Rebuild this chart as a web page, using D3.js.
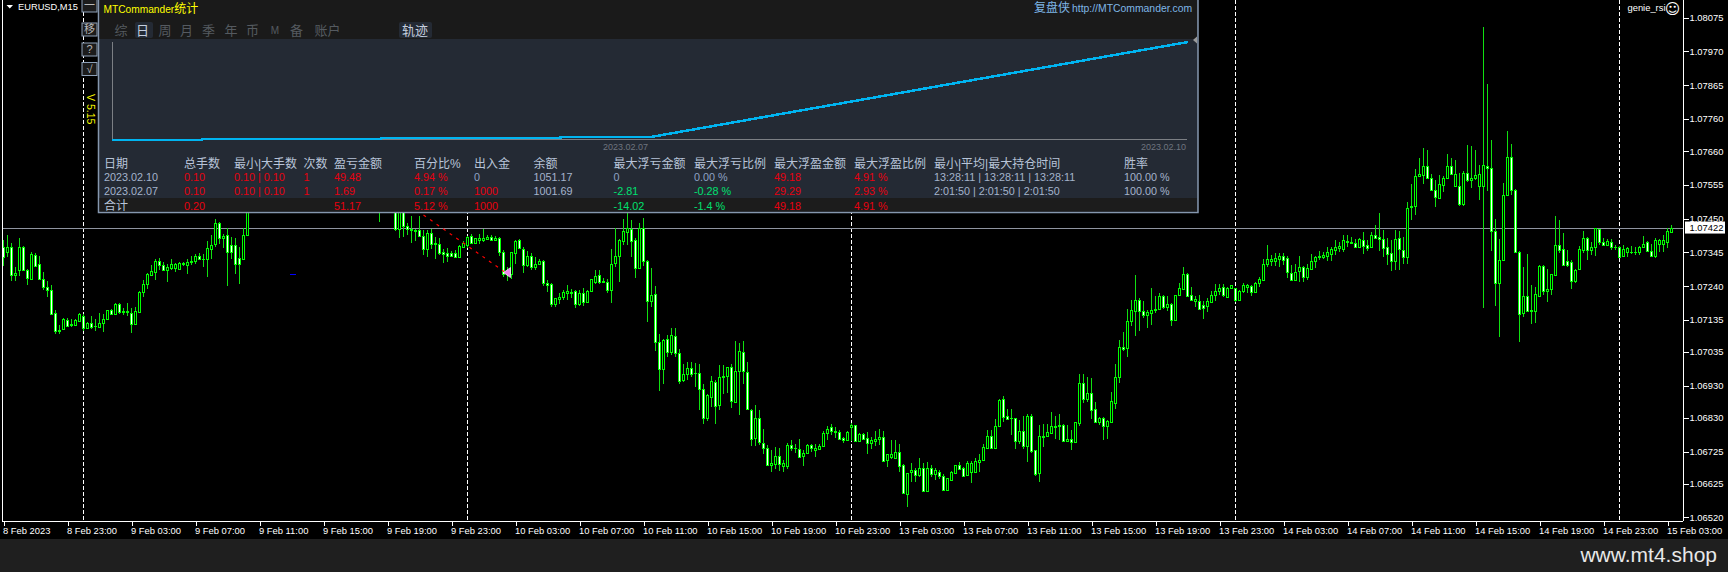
<!DOCTYPE html>
<html>
<head>
<meta charset="utf-8">
<script src="https://cdnjs.cloudflare.com/ajax/libs/d3/7.8.5/d3.min.js"></script>
<style>
  html, body { margin: 0; padding: 0; background: #000; overflow: hidden; }
  svg { display: block; }
  text { font-family: "Liberation Sans", "Noto Sans CJK SC", sans-serif; }
</style>
</head>
<body>
<div id="chart"></div>
<script>
// EURUSD M15 prices, written as points above 1.06000 (1422 = 1.07422).
// null = candle completely covered by the stats panel, can't be read
var opens = [
1360,1347,1360,1275,1289,1362,1289,1263,1338,1308,1263,1237,1229,1157,1104,1107,
1134,1118,1119,1131,1146,1109,1125,1117,1112,1125,1138,1167,1154,1185,1158,1160,
1156,1123,1160,1222,1246,1275,1284,1317,1304,1291,1297,1295,1293,1312,1307,1314,
1318,1335,1325,1325,1355,1370,1437,1391,1398,1367,1367,1327,1325,1399,null,null,
null,null,null,null,null,null,null,null,null,null,null,null,null,null,null,null,
null,null,null,null,null,null,null,null,null,null,null,null,null,null,1500,null,
null,null,1480,1416,1480,1428,1417,1414,1413,1396,1356,1406,1373,1372,1345,1344,
1344,1343,1331,1362,1367,1395,1374,1384,1384,1386,1393,1384,1391,1347,1276,1278,
1344,1382,1354,1304,1335,1300,1309,1319,1250,1246,1184,1200,1205,1219,1223,1226,
1185,1217,1191,1225,1254,1273,1256,1254,1228,1311,1334,1380,1409,1416,1382,1297,
1422,1319,1194,1214,1067,983,1074,1034,1086,1032,947,966,986,969,968,920,
831,895,942,870,961,961,987,880,975,1036,974,854,767,828,753,737,
682,687,712,680,680,744,737,732,711,721,744,730,732,742,783,800,
788,787,766,761,801,809,758,781,766,752,758,765,771,698,708,705,
725,682,594,660,669,651,675,603,675,655,662,650,606,636,659,682,
673,652,662,661,692,698,736,772,736,805,890,835,828,829,757,790,
743,835,729,658,771,773,783,802,806,809,758,765,755,813,937,888,
906,856,818,828,805,818,877,958,1049,1048,1130,1163,1198,1163,1150,1157,
1165,1170,1209,1176,1183,1135,1211,1231,1277,1211,1194,1195,1181,1178,1191,1211,
1224,1236,1207,1234,1233,1197,1226,1238,1240,1220,1250,1260,1309,1319,1319,1325,
1333,1326,1282,1259,1288,1298,1269,1293,1319,1329,1331,1334,1341,1353,1359,1354,
1377,1373,1374,1362,1382,1369,1362,1400,1393,1385,1360,1342,1318,1388,1353,1331,
1486,1489,1583,1586,1613,1577,1540,1514,1554,1576,1612,1551,1552,1494,1593,1569,
1575,1552,1552,1615,1606,1410,1250,1321,1524,1640,1540,1347,1156,1210,1165,1163,
1208,1302,1225,1231,1274,1369,1354,1317,1316,1256,1292,1352,1391,1352,1360,1416,
1377,1367,1378,1361,1362,1334,1347,1346,1346,1346,1361,1376,1350,1334,1372,1372,
1377,1409]

var highs = [
1382,1400,1374,1299,1391,1364,1294,1345,1343,1333,1284,1256,1243,1167,1118,1140,
1140,1136,1139,1156,1154,1128,1146,1136,1156,1152,1167,1170,1187,1187,1173,1187,
1173,1175,1225,1260,1281,1305,1323,1327,1315,1308,1325,1312,1316,1316,1323,1333,
1341,1343,1339,1380,1398,1448,1439,1403,1422,1393,1391,1362,1422,1500,null,null,
null,null,null,null,null,null,null,null,null,null,null,null,null,null,null,null,
null,null,null,null,null,null,null,null,null,null,null,null,null,null,1510,null,
null,null,1490,1490,1490,1435,1457,1419,1457,1414,1414,1416,1393,1388,1354,1357,
1348,1352,1367,1381,1395,1401,1388,1401,1416,1399,1398,1395,1393,1352,1300,1347,
1383,1385,1360,1349,1343,1331,1324,1322,1260,1248,1204,1217,1229,1243,1232,1229,
1227,1235,1229,1263,1291,1289,1264,1263,1354,1420,1385,1448,1468,1445,1391,1435,
1451,1320,1295,1240,1090,1074,1087,1111,1108,1043,997,1003,1005,1001,999,935,
904,960,947,994,994,989,999,1068,1064,1068,1003,856,869,854,794,745,
729,739,737,698,753,760,750,765,729,750,750,748,750,788,804,810,
800,791,771,790,814,809,783,784,786,769,788,794,789,719,762,762,
750,686,659,691,675,706,690,692,682,675,667,655,644,665,684,693,
677,695,695,706,717,748,791,791,825,890,897,859,856,831,823,835,
843,843,731,807,812,812,849,835,841,812,807,791,818,965,965,956,
953,879,833,833,823,909,999,1072,1098,1170,1196,1274,1202,1193,1167,1234,
1209,1217,1212,1209,1186,1212,1250,1298,1282,1238,1209,1212,1194,1202,1224,1245,
1245,1245,1236,1244,1235,1227,1251,1246,1243,1253,1267,1324,1367,1336,1342,1342,
1342,1333,1305,1310,1333,1302,1310,1339,1333,1349,1346,1360,1360,1383,1378,1398,
1398,1393,1385,1388,1408,1382,1408,1429,1467,1414,1388,1382,1414,1411,1393,1502,
1559,1605,1637,1669,1662,1590,1569,1585,1582,1652,1637,1631,1592,1598,1678,1675,
1662,1616,2045,1868,1694,1450,1386,1562,1722,1681,1543,1349,1300,1339,1243,1237,
1305,1305,1292,1277,1457,1445,1406,1351,1320,1294,1364,1411,1393,1377,1422,1419,
1388,1385,1385,1369,1364,1367,1362,1364,1360,1364,1395,1380,1370,1391,1385,1400,
1420,1431]

var lows = [
1302,1331,1256,1256,1270,1289,1242,1260,1302,1258,1227,1206,1150,1092,1092,1102,
1115,1113,1117,1129,1100,1107,1105,1100,1109,1098,1136,1152,1150,1154,1150,1146,
1094,1121,1156,1206,1232,1270,1258,1289,1289,1253,1289,1284,1289,1302,1279,1305,
1310,1320,1299,1268,1325,1362,1372,1357,1239,1325,1279,1246,1322,1398,null,null,
null,null,null,null,null,null,null,null,null,null,null,null,null,null,null,null,
null,null,null,null,null,null,null,null,null,null,null,null,null,null,1440,null,
null,null,1412,1390,1393,1398,1374,1380,1393,1336,1331,1354,1324,1336,1312,1315,
1331,1328,1329,1360,1357,1370,1374,1370,1377,1383,1381,1381,1333,1269,1256,1262,
1308,1355,1281,1300,1289,1289,1307,1240,1222,1175,1175,1184,1198,1198,1204,1171,
1177,1177,1188,1224,1246,1246,1248,1219,1188,1300,1253,1367,1367,1331,1265,1293,
1302,1129,1175,1038,914,935,1020,1025,1020,935,942,947,957,926,854,812,
821,864,812,854,904,906,860,875,838,935,854,743,743,745,719,680,
662,672,665,662,672,726,722,706,679,719,724,707,729,739,762,776,
768,763,752,760,758,755,755,762,716,734,742,745,693,677,703,703,
663,593,553,631,631,646,602,602,646,638,641,603,605,634,657,669,
646,649,628,659,661,696,734,733,733,802,817,823,776,734,748,734,
693,722,648,631,740,771,779,764,762,755,755,731,752,806,875,879,
827,816,807,761,764,816,859,937,1039,1020,1117,1084,1101,1141,1108,1120,
1157,1167,1170,1163,1117,1134,1210,1227,1209,1193,1174,1167,1137,1159,1189,1193,
1212,1207,1204,1231,1191,1196,1219,1219,1209,1217,1236,1259,1300,1302,1302,1300,
1305,1266,1255,1255,1254,1252,1259,1290,1295,1321,1324,1318,1319,1336,1347,1346,
1362,1372,1359,1357,1339,1349,1358,1388,1349,1331,1305,1287,1289,1289,1310,1310,
1445,1460,1579,1559,1574,1536,1486,1512,1533,1574,1585,1548,1490,1488,1564,1546,
1571,1507,1172,1535,1348,1178,1082,1320,1523,1523,1346,1066,1144,1160,1123,1126,
1206,1211,1191,1211,1272,1344,1303,1300,1231,1248,1289,1343,1320,1336,1333,1367,
1364,1364,1351,1353,1326,1329,1329,1339,1336,1336,1357,1346,1331,1328,1346,1347,
1358,1405]

var closes = [
1331,1360,1274,1282,1362,1291,1266,1341,1303,1262,1237,1229,1152,1100,1101,1136,
1117,1121,1134,1152,1109,1125,1113,1115,1126,1139,1165,1154,1185,1158,1163,1163,
1123,1163,1222,1245,1277,1286,1319,1304,1291,1300,1308,1308,1312,1308,1316,1318,
1335,1324,1323,1357,1369,1437,1391,1397,1346,1346,1310,1310,1400,1480,null,null,
null,null,null,null,null,null,null,null,null,null,null,null,null,null,null,null,
null,null,null,null,null,null,null,null,null,null,null,null,null,null,1480,null,
null,null,1416,1480,1427,1416,1413,1412,1396,1355,1406,1372,1371,1343,1340,1334,
1334,1331,1364,1375,1394,1373,1388,1388,1388,1394,1384,1391,1346,1277,1280,1345,
1381,1357,1304,1335,1300,1310,1317,1250,1244,1184,1202,1207,1223,1226,1219,1185,
1217,1190,1226,1261,1271,1253,1254,1227,1310,1335,1382,1410,1420,1380,1297,1422,
1318,1194,1211,1066,983,1072,1035,1089,1032,945,966,984,966,971,920,831,
900,946,868,957,957,987,883,977,1039,975,856,765,828,755,736,682,
689,712,687,688,744,736,735,708,722,744,736,737,741,784,796,789,
786,763,760,787,809,759,781,764,752,760,765,769,696,716,716,725,
680,595,657,669,651,675,603,675,655,667,648,605,642,660,682,671,
650,688,690,696,700,738,772,736,806,887,833,826,831,758,790,743,
835,726,656,772,773,787,804,804,809,758,765,756,816,937,890,906,
854,818,828,805,819,881,956,1049,1043,1130,1164,1196,1163,1150,1158,1167,
1170,1209,1176,1183,1135,1211,1233,1276,1210,1197,1201,1169,1173,1192,1212,1226,
1234,1211,1233,1242,1197,1226,1242,1242,1220,1251,1261,1310,1323,1323,1326,1335,
1321,1284,1259,1285,1298,1269,1296,1319,1329,1333,1336,1345,1355,1363,1365,1382,
1379,1378,1362,1385,1364,1359,1400,1391,1385,1359,1339,1318,1385,1354,1329,1484,
1490,1583,1590,1615,1576,1540,1517,1556,1576,1612,1589,1590,1494,1593,1569,1577,
1587,1588,1618,1606,1412,1250,1322,1522,1640,1540,1347,1154,1210,1162,1163,1214,
1302,1225,1232,1276,1369,1351,1305,1305,1256,1291,1355,1391,1352,1360,1420,1377,
1368,1379,1362,1362,1329,1354,1357,1347,1347,1362,1372,1349,1335,1383,1382,1383,
1410,1422]

var priceTicks = [1.08075, 1.07970, 1.07865, 1.07760, 1.07660, 1.07555, 1.07450, 1.07345, 1.07240, 1.07135, 1.07035, 1.06930, 1.06830, 1.06725, 1.06625, 1.06520]
var timeLabels = ["8 Feb 2023", "8 Feb 23:00", "9 Feb 03:00", "9 Feb 07:00", "9 Feb 11:00", "9 Feb 15:00", "9 Feb 19:00", "9 Feb 23:00",
  "10 Feb 03:00", "10 Feb 07:00", "10 Feb 11:00", "10 Feb 15:00", "10 Feb 19:00", "10 Feb 23:00",
  "13 Feb 03:00", "13 Feb 07:00", "13 Feb 11:00", "13 Feb 15:00", "13 Feb 19:00", "13 Feb 23:00",
  "14 Feb 03:00", "14 Feb 07:00", "14 Feb 11:00", "14 Feb 15:00", "14 Feb 19:00", "14 Feb 23:00", "15 Feb 03:00"]
var dayBreaks = [20, 116, 212, 308, 404]   // candle index of the day separators
var bidPrice = 1.07422
var tradeBars = [105, 125.5]
var tradePoints = [1461, 1282]
var blueMarkBars = [71.5, 73]
var blueMarkPoints = 1276

// stats panel
var tabs = ["综", "日", "周", "月", "季", "年", "币", "M", "备", "账户", "轨迹"]
var headers = ["日期", "总手数", "最小|大手数", "次数", "盈亏金额", "百分比%", "出入金", "余额", "最大浮亏金额", "最大浮亏比例", "最大浮盈金额", "最大浮盈比例", "最小|平均|最大持仓时间", "胜率"]
var row1 = ["2023.02.10", "0.10", "0.10 | 0.10", "1", "49.48", "4.94 %", "0", "1051.17", "0", "0.00 %", "49.18", "4.91 %", "13:28:11 | 13:28:11 | 13:28:11", "100.00 %"]
var row2 = ["2023.02.07", "0.10", "0.10 | 0.10", "1", "1.69", "0.17 %", "1000", "1001.69", "-2.81", "-0.28 %", "29.29", "2.93 %", "2:01:50 | 2:01:50 | 2:01:50", "100.00 %"]
var totals = ["合计", "0.20", "", "", "51.17", "5.12 %", "1000", "", "-14.02", "-1.4 %", "49.18", "4.91 %", "", ""]
var trackT = [0, 0.0836, 0.0836, 0.25, 0.25, 0.417, 0.417, 0.502, 1]
var trackBalance = [1000, 1000, 1000.5, 1000.5, 1001, 1001, 1001.69, 1001.69, 1051.17]
var trackDates = ["2023.02.07", "2023.02.10"]

var W = 1728, H = 572
var plotBottom = 521, axisX = 1683

var svg = d3.select("#chart").append("svg").attr("width", W).attr("height", H)
svg.append("rect").attr("width", W).attr("height", H).attr("fill", "#000")

var toPrice = function (pts) { return 1.06 + pts / 1e5 }

var x = d3.scaleLinear().domain([0, 417]).range([3.5, 1671.5])
var y = d3.scaleLinear().domain([1.06509, 1.08130]).range([plotBottom, 0])

// ----- day separators and bid line, behind the candles ----- //
svg.selectAll(".sep").data(dayBreaks).enter().append("line")
  .attr("class", "sep")
  .attr("x1", x).attr("x2", x)
  .attr("y1", 0).attr("y2", plotBottom)
  .attr("stroke", "#fff").attr("stroke-dasharray", "4 2")
  .attr("shape-rendering", "crispEdges")

svg.append("line")
  .attr("x1", 2).attr("x2", axisX)
  .attr("y1", Math.round(y(bidPrice)) + 0.5).attr("y2", Math.round(y(bidPrice)) + 0.5)
  .attr("stroke", "#8f94a0").attr("shape-rendering", "crispEdges")

// ----- candles ----- //
var bars = d3.range(opens.length).filter(function (i) { return opens[i] !== null })
var bodyTop = function (i) { return Math.round(y(toPrice(Math.max(opens[i], closes[i])))) }
var bodyBot = function (i) { return Math.round(y(toPrice(Math.min(opens[i], closes[i])))) }

svg.append("g").selectAll("line").data(bars).enter().append("line")
  .attr("x1", x).attr("x2", x)
  .attr("y1", function (i) { return y(toPrice(highs[i])) })
  .attr("y2", function (i) { return y(toPrice(lows[i])) })
  .attr("stroke", "#10e010").attr("shape-rendering", "crispEdges")

// green outer box, then the one pixel wide inside
svg.append("g").selectAll("rect").data(bars).enter().append("rect")
  .attr("x", function (i) { return x(i) - 1.5 })
  .attr("width", 3)
  .attr("y", bodyTop)
  .attr("height", function (i) { return bodyBot(i) - bodyTop(i) + 1 })
  .attr("fill", "#00ff00")
  .attr("shape-rendering", "crispEdges")

svg.append("g").selectAll("rect").data(bars.filter(function (i) { return bodyBot(i) - bodyTop(i) >= 2 })).enter().append("rect")
  .attr("x", function (i) { return x(i) - 0.5 })
  .attr("width", 1)
  .attr("y", function (i) { return bodyTop(i) + 1 })
  .attr("height", function (i) { return bodyBot(i) - bodyTop(i) - 1 })
  .attr("fill", function (i) { return closes[i] < opens[i] ? "#fff" : "#000" })
  .attr("shape-rendering", "crispEdges")

// ----- trade line and markers ----- //
svg.append("line")
  .attr("x1", x(tradeBars[0])).attr("y1", y(toPrice(tradePoints[0])))
  .attr("x2", x(tradeBars[1])).attr("y2", y(toPrice(tradePoints[1])))
  .attr("stroke", "#ff0000").attr("stroke-width", 1.2).attr("stroke-dasharray", "3 5")

svg.append("path")
  .attr("transform", "translate(" + x(tradeBars[1]) + "," + y(toPrice(tradePoints[1])) + ")")
  .attr("d", "M-2,0 L5,-5 L5,5 Z")
  .attr("fill", "#ee82ee").attr("stroke", "#fff").attr("stroke-width", 0.7)

svg.append("line")
  .attr("x1", x(blueMarkBars[0])).attr("x2", x(blueMarkBars[1]))
  .attr("y1", y(toPrice(blueMarkPoints))).attr("y2", y(toPrice(blueMarkPoints)))
  .attr("stroke", "#0000ff").attr("shape-rendering", "crispEdges")

// ----- axes ----- //
var yAxis = svg.append("g")
  .attr("transform", "translate(" + (axisX + 0.5) + ",0)")
  .call(d3.axisRight(y).tickValues(priceTicks).tickFormat(d3.format(".5f")).tickSize(5).tickPadding(1))
var xAxis = svg.append("g")
  .attr("transform", "translate(0," + (plotBottom + 0.5) + ")")
  .call(d3.axisBottom(x).tickValues(timeLabels.map(function (d, i) { return i * 16 }))
    .tickFormat(function (d) { return timeLabels[d / 16] }).tickSize(4).tickPadding(2))
xAxis.select(".domain").attr("d", "M2,0H" + axisX)
yAxis.select(".domain").attr("d", "M0,0V" + plotBottom)
svg.selectAll(".domain").attr("stroke", "#fff").attr("shape-rendering", "crispEdges")
svg.selectAll(".tick line").attr("stroke", "#fff").attr("shape-rendering", "crispEdges")
svg.selectAll(".tick text").attr("fill", "#fff").style("font-size", "9.4px").style("font-family", "Liberation Sans")
xAxis.selectAll(".tick text").attr("text-anchor", "start").attr("dx", "-1")

svg.append("line").attr("x1", 2.5).attr("x2", 2.5).attr("y1", 0).attr("y2", plotBottom)
  .attr("stroke", "#fff").attr("shape-rendering", "crispEdges")

// bid price box
svg.append("rect").attr("x", 1685).attr("y", y(bidPrice) - 6).attr("width", 40).attr("height", 12).attr("fill", "#fff")
svg.append("text").attr("x", 1689.5).attr("y", y(bidPrice)).attr("dy", "0.35em")
  .attr("fill", "#000").style("font-size", "9.4px").text(d3.format(".5f")(bidPrice))

// ----- top-left labels ----- //
function label(g, px, py, txt, color, size, anchor) {
  return g.append("text").attr("x", px).attr("y", py).attr("dy", "0.35em")
    .attr("fill", color).attr("text-anchor", anchor || "start")
    .style("font-size", size + "px").text(txt)
}

svg.append("path").attr("d", "M6.5,5 H13 L9.8,8.6 Z").attr("fill", "#fff")
label(svg, 18, 7, "EURUSD,M15", "#fff", 9.3)
label(svg, 1665.5, 8, "genie_rsi", "#fff", 9.4, "end")
label(svg, 1672.5, 8.5, "☺", "#fff", 15, "middle").style("font-family", "DejaVu Sans")

// ----- side buttons ----- //
var buttonText = ["一", "移", "?", "√"]
var buttonY = [-1, 23, 43, 62.5]
buttonText.forEach(function (t, i) {
  svg.append("rect").attr("x", 82).attr("y", buttonY[i]).attr("width", 15).attr("height", 13)
    .attr("fill", "#1c1c1c").attr("stroke", "#8da0b8")
  label(svg, 89.5, buttonY[i] + 6.5, t, "#b8b8b8", 11, "middle")
})
svg.append("text").attr("transform", "translate(87,94) rotate(90)")
  .attr("fill", "#ffff00").style("font-size", "10.5px").text("V 5.15")

// ----- stats panel, drawn over the chart ----- //
var panel = svg.append("g")
panel.append("rect").attr("x", 98.5).attr("y", -2).attr("width", 1099.5).attr("height", 214.5)
  .attr("fill", "#242a34").attr("stroke", "#8597ae").attr("stroke-width", 1.5)
panel.append("rect").attr("x", 99.5).attr("y", 0).attr("width", 1097.5).attr("height", 39).attr("fill", "#1a1a1a")
panel.append("rect").attr("x", 99.5).attr("y", 198).attr("width", 1097.5).attr("height", 13.5).attr("fill", "#1c1c1c")

var titleText = label(panel, 103.5, 9, "MTCommander", "#ffff00", 10.2)
titleText.append("tspan").style("font-size", "12px").text("统计")
label(panel, 1034, 8, "复盘侠", "#7fb6e6", 12)
label(panel, 1072, 8, "http://MTCommander.com", "#7fb6e6", 10.4)

var tabX = [121, 142.5, 165, 186.5, 208.5, 231, 252.5, 275, 296.5, 327.5, 415]
panel.append("rect").attr("x", 135).attr("y", 22).attr("width", 18).attr("height", 16).attr("rx", 2).attr("fill", "#242a34")
panel.append("rect").attr("x", 399).attr("y", 22).attr("width", 33).attr("height", 16).attr("rx", 2).attr("fill", "#242a34")
tabs.forEach(function (t, i) {
  var on = (t === "日" || t === "轨迹")
  label(panel, tabX[i], 30.5, t, on ? "#c4cede" : "#555a60", t === "M" ? 10 : 13, "middle")
})

// balance curve
var trackX = d3.scaleLinear().domain([0, 1]).range([112, 1188])
var trackY = d3.scaleLinear().domain([1000, 1051.17]).range([140, 42])
panel.append("path").attr("d", "M112.5,42V139.5H1187").attr("fill", "none").attr("stroke", "#7c7f84").attr("shape-rendering", "crispEdges")
panel.append("path")
  .attr("d", d3.line().x(function (d, i) { return trackX(d) }).y(function (d, i) { return trackY(trackBalance[i]) })(trackT))
  .attr("fill", "none").attr("stroke", "#00b4f0").attr("stroke-width", 2.5).attr("shape-rendering", "crispEdges")
panel.append("path").attr("d", "M1193,40 L1197,36.5 V43.5 Z").attr("fill", "#9a9a9a")
label(panel, 648, 146.7, trackDates[0], "#6f757f", 9, "end")
label(panel, 1186, 146.7, trackDates[1], "#6f757f", 9, "end")

// stats table
var colX = [104, 184, 234, 303.6, 334, 414, 474, 533.6, 613.6, 694, 774, 854, 934, 1124]
var grey = "#a4b4cc", red = "#e8000f", green = "#00e070"
function cellColor(txt, c) {
  if (c === 0 || c === 7 || c === 12 || c === 13) return grey
  if (txt.charAt(0) === "-") return green
  if (txt === "0" || txt === "0.00 %") return "#8fa3c4"
  return red
}
headers.forEach(function (t, c) { label(panel, colX[c], 163.3, t, "#b8c4d8", 12) })
;[row1, row2].forEach(function (row, r) {
  row.forEach(function (t, c) { label(panel, colX[c], 177 + r * 14, t, cellColor(t, c), 10.8) })
})
totals.forEach(function (t, c) { label(panel, colX[c], 206, t, c === 0 ? "#b8c4d8" : cellColor(t, c), c === 0 ? 12 : 10.8) })

// ----- bottom strip ----- //
svg.append("rect").attr("y", 539).attr("width", W).attr("height", H - 539).attr("fill", "#1f1f1f")
label(svg, 1717, 555, "www.mt4.shop", "#e8e8e8", 21, "end")
</script>
</body>
</html>
